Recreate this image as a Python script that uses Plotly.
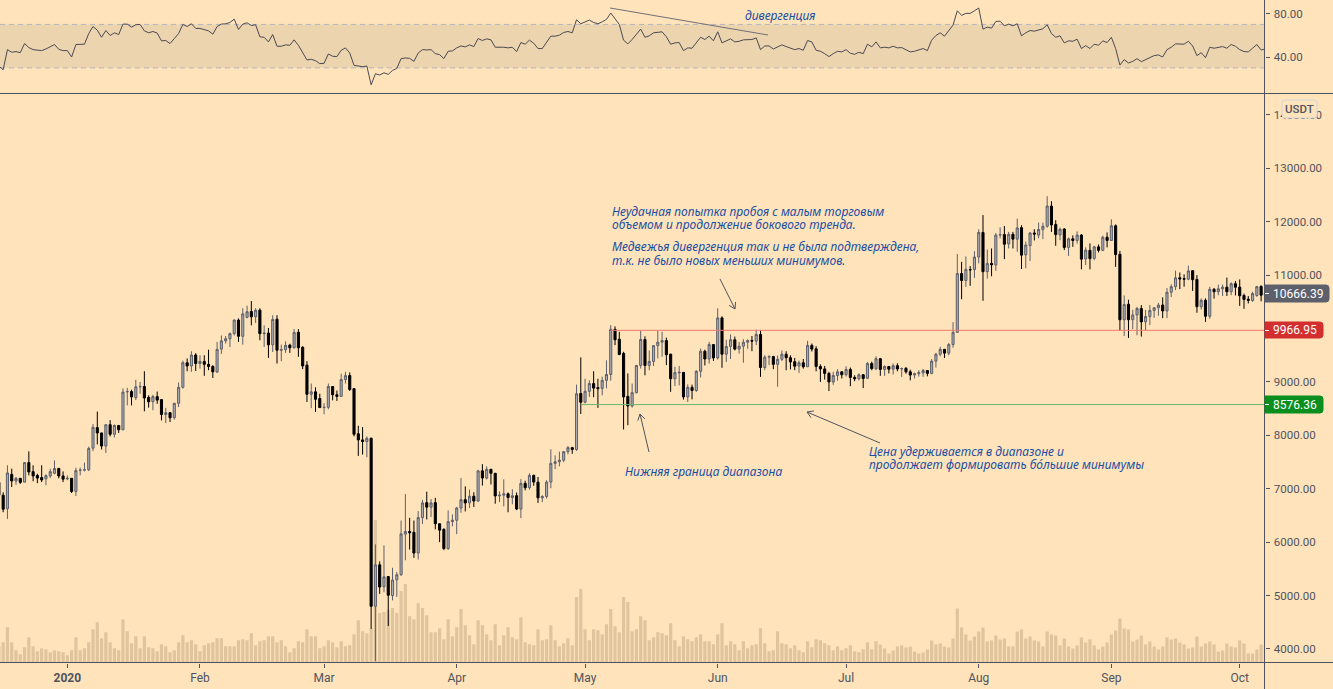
import math

import pandas as pd
import plotly.graph_objects as go

# daily candles, Dec 16 2019 .. Oct 7 2020 (one row per month)
opens = [
    7120, 6880, 6625, 7269, 7145, 7195, 7124, 7490, 7320, 7250, 7210, 7185, 7240, 7290, 7380, 7240,
    7185, 7195, 6950, 7345, 7350, 7357, 7760, 8145, 8045, 7800, 8200, 8020, 8185, 8105, 8815, 8820, 8705, 8910, 8915, 8710, 8630, 8725, 8670, 8390, 8425, 8330, 8600, 8900, 9360, 9300, 9505,
    9345, 9385, 9330, 9290, 9185, 9615, 9770, 9810, 9905, 10160, 9855, 10210, 10320, 10220, 10345, 9905, 9915, 9695, 10175, 9595, 9605, 9690, 9640, 9930, 9650, 9315, 8770, 8815, 8690,
    8520, 8525, 8915, 8760, 8730, 9045, 9120, 8875, 8030, 7915, 7885, 7945, 4800, 5575, 5165, 5355, 5000, 5295, 5390, 6150, 6200, 6185, 5795, 6460, 6740, 6655, 6740, 6345, 6240, 5880, 6385,
    6410, 6640, 6795, 6735, 6860, 6770, 7335, 7200, 7365, 7290, 6865, 6880, 6905, 6835, 6870, 6620, 7100, 7020, 7250, 7125, 6830, 6855, 7125, 7475, 7505, 7535, 7695, 7770, 7735, 8785,
    8620, 8825, 8970, 8895, 8880, 9030, 9140, 9985, 9800, 9535, 8730, 8550, 8800, 9310, 9795, 9310, 9385, 9680, 9745, 9775, 9520, 9060, 9170, 9180, 8720, 8900, 8840, 9200, 9575, 9430, 9700,
    9450, 10200, 9520, 9665, 9790, 9615, 9670, 9745, 9775, 9765, 9890, 9270, 9465, 9475, 9330, 9425, 9520, 9455, 9380, 9300, 9360, 9285, 9685, 9620, 9290, 9245, 9160, 9000, 9120, 9190,
    9135, 9235, 9085, 9060, 9135, 9070, 9345, 9250, 9435, 9235, 9290, 9240, 9305, 9245, 9255, 9190, 9130, 9155, 9170, 9215, 9160, 9390, 9520, 9610, 9540, 9700, 9930, 11030, 10900, 11105, 11105,
    11340, 11800, 11065, 11220, 11190, 11750, 11760, 11585, 11765, 11675, 11890, 11380, 11555, 11790, 11750, 11855, 11915, 12295, 11950, 11755, 11865, 11520, 11680, 11650, 11750, 11305, 11465, 11315, 11530, 11465, 11710,
    11650, 11925, 11390, 10165, 10455, 10165, 10255, 10375, 10125, 10225, 10340, 10390, 10440, 10330, 10680, 10785, 10950, 10935, 10925, 11085, 10920, 10410, 10530, 10230, 10735, 10690, 10745, 10775, 10690, 10840,
    10775, 10620, 10550, 10525, 10620, 10790, 10625,
]
highs = [
    7150, 6935, 7440, 7376, 7220, 7195, 7495, 7700, 7440, 7280, 7440, 7270, 7375, 7530, 7390, 7325,
    7250, 7195, 7395, 7395, 7490, 7790, 8210, 8445, 8050, 8200, 8285, 8205, 8185, 8880, 8890, 8855, 9040, 9000, 9200, 8750, 8760, 8820, 8670, 8515, 8430, 8610, 8990, 9400, 9440, 9575, 9540,
    9500, 9500, 9605, 9315, 9750, 9870, 9860, 9925, 10170, 10190, 10380, 10430, 10515, 10380, 10380, 10060, 10010, 10250, 10250, 9700, 9760, 9715, 9990, 9990, 9670, 9390, 8970, 8900, 8780,
    8605, 8970, 8920, 8840, 9155, 9190, 9180, 8875, 8180, 8155, 7980, 7960, 5958, 5640, 5940, 5360, 5520, 5440, 6405, 6900, 6455, 6405, 6580, 6790, 6945, 6805, 6830, 6345, 6260, 6595, 6520,
    6660, 7200, 7045, 6985, 6935, 7355, 7460, 7420, 7370, 7295, 6950, 7175, 6930, 6990, 6930, 7180, 7150, 7290, 7265, 7220, 6880, 7160, 7740, 7625, 7695, 7705, 7800, 7785, 8950, 9460,
    9060, 9030, 9200, 9060, 9100, 9405, 10065, 10040, 9940, 9565, 9160, 8970, 9315, 9955, 9855, 9590, 9690, 9955, 9940, 9830, 9530, 9285, 9300, 9185, 8955, 8950, 9220, 9625, 9605, 9750, 9700,
    10380, 10230, 9790, 9890, 9850, 9750, 9800, 9800, 9860, 9980, 9970, 9500, 9500, 9490, 9495, 9590, 9575, 9500, 9450, 9400, 9430, 9770, 9720, 9670, 9330, 9300, 9190, 9190, 9240, 9200,
    9295, 9270, 9125, 9160, 9150, 9375, 9380, 9480, 9450, 9310, 9300, 9345, 9350, 9270, 9280, 9230, 9175, 9220, 9245, 9220, 9430, 9545, 9660, 9620, 9730, 10120, 11395, 11250, 11350, 11170, 11450,
    11860, 12125, 11480, 11500, 11790, 11895, 11920, 11810, 11810, 12060, 11935, 11630, 11810, 11860, 11985, 11985, 12480, 12385, 12030, 11890, 11880, 11705, 11745, 11820, 11770, 11520, 11595, 11550, 11575, 11740, 11800,
    12045, 11950, 11455, 10620, 10540, 10350, 10405, 10440, 10350, 10440, 10400, 10480, 10585, 10760, 10830, 11085, 11050, 11015, 11180, 11085, 11000, 10565, 10565, 10780, 10760, 10825, 10825, 10955, 10865, 10890,
    10920, 10655, 10610, 10690, 10800, 10810, 10690,
]
lows = [
    6830, 6560, 6435, 7032, 7076, 7090, 7120, 7250, 7140, 7105, 7125, 7065, 7200, 7270, 7195, 7125,
    7160, 6920, 6865, 7250, 7325, 7330, 7705, 7830, 7735, 7670, 7980, 7960, 8045, 8095, 8560, 8560, 8660, 8780, 8450, 8520, 8470, 8590, 8280, 8230, 8250, 8295, 8530, 8875, 9200, 9190, 9205,
    9250, 9115, 9220, 9075, 9170, 9525, 9720, 9655, 9870, 9750, 9700, 10190, 10060, 10105, 9780, 9655, 9450, 9560, 9345, 9390, 9545, 9545, 9625, 9470, 9240, 8625, 8510, 8440, 8520,
    8395, 8490, 8655, 8645, 8730, 8970, 8830, 7980, 7615, 7640, 7590, 4375, 3771, 5030, 5060, 4430, 4910, 4975, 5370, 5660, 5860, 5705, 5675, 6340, 6425, 6470, 6240, 6000, 5850, 5855, 6295,
    6150, 6550, 6575, 6640, 6660, 6750, 7060, 7175, 7080, 6720, 6750, 6670, 6560, 6710, 6600, 6450, 6970, 6985, 7055, 6735, 6750, 6815, 7010, 7370, 7420, 7500, 7645, 7655, 7710, 8400,
    8600, 8720, 8715, 8515, 8750, 8880, 9025, 9690, 9500, 8110, 8190, 8520, 8785, 9250, 9125, 9220, 9300, 9440, 9470, 9315, 8815, 8925, 8935, 8670, 8625, 8675, 8815, 9085, 9310, 9345, 9395,
    9420, 9265, 9375, 9430, 9590, 9530, 9360, 9620, 9575, 9690, 9095, 9220, 9315, 9240, 8910, 9390, 9220, 9235, 9220, 9170, 9250, 9280, 9570, 9200, 9000, 9045, 8830, 8945, 9025, 9065,
    9100, 8920, 9015, 9030, 8885, 9055, 9220, 9220, 9115, 9115, 9160, 9140, 9200, 9095, 9155, 9030, 9065, 9100, 9095, 9105, 9145, 9270, 9480, 9450, 9500, 9640, 9920, 10550, 10780, 10800, 10950,
    11220, 10520, 10935, 10980, 11080, 11690, 11300, 11500, 11500, 11440, 11115, 11130, 11265, 11650, 11690, 11675, 11890, 11810, 11550, 11655, 11470, 11360, 11530, 11590, 11110, 11190, 11110, 11280, 11425, 11450, 11520,
    11640, 11155, 9960, 9860, 9825, 9990, 9875, 9850, 9965, 10065, 10200, 10240, 10195, 10195, 10590, 10720, 10740, 10785, 10905, 10705, 10295, 10355, 10125, 10185, 10560, 10625, 10610, 10610, 10625, 10620,
    10425, 10370, 10470, 10500, 10595, 10510, 10610,
]
closes = [
    6880, 6616, 7296, 7145, 7195, 7120, 7490, 7315, 7240, 7200, 7165, 7245, 7320, 7380, 7240, 7180,
    7195, 6950, 7340, 7350, 7355, 7755, 8150, 8045, 7800, 8200, 8020, 8185, 8105, 8810, 8820, 8720, 8910, 8915, 8700, 8630, 8725, 8660, 8390, 8425, 8330, 8600, 8900, 9360, 9300, 9505, 9345,
    9385, 9330, 9290, 9190, 9610, 9770, 9810, 9905, 10160, 9855, 10275, 10315, 10220, 10345, 9905, 9915, 9695, 10170, 9595, 9605, 9685, 9640, 9925, 9640, 9300, 8770, 8815, 8675, 8520,
    8525, 8915, 8760, 8730, 9045, 9120, 8860, 8020, 7915, 7885, 7945, 4800, 5575, 5160, 5350, 5005, 5290, 5390, 6155, 6200, 6175, 5795, 6460, 6735, 6655, 6735, 6345, 6225, 5880, 6385, 6410,
    6640, 6795, 6735, 6860, 6770, 7335, 7200, 7365, 7290, 6865, 6880, 6905, 6835, 6870, 6620, 7100, 7020, 7250, 7125, 6830, 6855, 7125, 7475, 7505, 7535, 7695, 7770, 7735, 8780, 8620,
    8825, 8970, 8885, 8875, 9030, 9140, 9985, 9790, 9515, 8720, 8550, 8800, 9310, 9795, 9310, 9385, 9680, 9745, 9775, 9510, 9060, 9175, 9180, 8720, 8900, 8840, 9200, 9575, 9430, 9700, 9450,
    10200, 9520, 9665, 9790, 9615, 9670, 9745, 9775, 9765, 9890, 9270, 9465, 9475, 9330, 9425, 9520, 9455, 9375, 9295, 9360, 9285, 9685, 9615, 9290, 9245, 9160, 9000, 9120, 9190, 9135,
    9235, 9085, 9060, 9135, 9065, 9345, 9250, 9435, 9235, 9290, 9240, 9305, 9245, 9250, 9190, 9130, 9155, 9175, 9215, 9160, 9390, 9520, 9610, 9540, 9700, 9930, 11030, 10900, 11110, 11100, 11340,
    11800, 11065, 11220, 11195, 11750, 11760, 11580, 11765, 11675, 11885, 11375, 11565, 11790, 11770, 11855, 11915, 12295, 11940, 11760, 11860, 11520, 11680, 11650, 11750, 11300, 11470, 11310, 11530, 11465, 11710, 11650,
    11925, 11385, 10165, 10450, 10165, 10255, 10375, 10125, 10225, 10340, 10390, 10440, 10330, 10680, 10785, 10950, 10930, 10925, 11080, 10915, 10410, 10530, 10230, 10735, 10690, 10745, 10775, 10690, 10840, 10775,
    10615, 10545, 10530, 10655, 10785, 10625, 10666.39,
]
volumes = [
    49, 61, 106, 61, 37, 25, 46, 76, 49, 34, 42, 40, 31, 37, 34, 31,
    22, 37, 76, 37, 43, 61, 100, 121, 73, 91, 61, 43, 37, 130, 94, 58, 79, 43, 79, 46, 43, 34, 55, 49, 31, 37, 61, 82, 61, 67, 55,
    34, 52, 58, 61, 73, 73, 49, 49, 49, 67, 70, 67, 88, 52, 64, 67, 79, 79, 61, 67, 49, 31, 43, 64, 61, 100, 79, 79, 43,
    49, 67, 61, 46, 64, 49, 52, 85, 127, 94, 88, 103, 427, 148, 151, 157, 163, 148, 214, 235, 139, 130, 178, 163, 142, 91, 91, 103, 70, 130, 79,
    106, 160, 112, 82, 55, 127, 112, 85, 67, 115, 52, 82, 106, 76, 70, 136, 61, 55, 52, 100, 67, 70, 112, 67, 49, 58, 73, 52, 196, 220,
    100, 67, 100, 97, 85, 115, 160, 109, 91, 196, 181, 94, 100, 139, 127, 67, 76, 91, 88, 82, 118, 67, 49, 79, 70, 64, 76, 85, 64, 64, 55,
    85, 118, 52, 64, 55, 37, 64, 43, 52, 55, 103, 58, 34, 37, 94, 58, 55, 43, 52, 37, 31, 64, 46, 70, 67, 58, 52, 37, 49, 37,
    43, 52, 34, 31, 40, 61, 40, 64, 54, 42, 27, 36, 48, 51, 45, 48, 33, 27, 30, 39, 66, 54, 57, 48, 45, 72, 162, 105, 84, 66, 78,
    93, 105, 63, 66, 81, 69, 72, 48, 48, 93, 99, 72, 78, 66, 63, 48, 93, 84, 81, 51, 72, 48, 42, 51, 75, 60, 69, 51, 39, 48, 60,
    84, 96, 132, 102, 99, 63, 69, 81, 54, 63, 48, 39, 48, 75, 69, 72, 60, 54, 42, 45, 78, 48, 57, 63, 54, 33, 36, 57, 48, 45,
    66, 57, 27, 27, 39, 54, 54,
]
rsi = [
    31.7, 28.3, 46.8, 44.4, 45, 44, 52.4, 48.7, 46.8, 46.2, 45.9, 47.4, 49.3, 51.5, 47.1, 45.9,
    45.9, 40, 51.5, 51.8, 51.8, 61.6, 68.1, 64.7, 58.2, 64.4, 59.8, 62.3, 60.7, 70.3, 70.3, 67.5, 69.7, 70, 64.1, 62.3, 63.5, 62, 54.9, 55.2, 52.4, 57, 61.6, 70, 68.1, 70.6, 66.3,
    66.3, 65.3, 64.1, 61, 68.1, 70.3, 70.6, 71.8, 74.9, 65.3, 70.3, 71.5, 69, 69.7, 58.6, 58.2, 53.9, 60.7, 49.9, 49.9, 51.2, 50.8, 55.8, 50.8, 44.4, 37.3, 37.9, 36.6, 33.9,
    34.2, 42.8, 40.7, 40.4, 46.2, 48.4, 43.7, 32.3, 31.4, 31.1, 31.7, 14.4, 24.6, 23.4, 25.5, 24, 27.7, 29.5, 38.5, 39.1, 38.8, 36, 43.7, 46.8, 46.5, 46.8, 43.1, 42.2, 38.5, 45.3, 45.6,
    48.4, 50.2, 49.3, 51.2, 49.6, 57, 55.2, 56.7, 55.8, 49, 49.3, 49, 48.4, 49, 45, 53.3, 51.8, 55.5, 52.7, 47.8, 47.8, 53.3, 59.2, 59.2, 60.1, 62.6, 63.5, 62.3, 74.3, 70.6,
    72.4, 74, 71.8, 70.6, 72.4, 74.6, 80.5, 75.5, 70, 55.5, 52.1, 56.1, 60.7, 65.7, 58.2, 59.5, 62.3, 62.9, 63.2, 58.6, 51.8, 53, 53.3, 45.9, 48.4, 48.1, 53.3, 58.2, 56.1, 59.2, 54.9,
    63.2, 53, 54.9, 56.7, 53.9, 54.5, 55.8, 56.1, 56.1, 57.6, 46.8, 50.2, 50.2, 47.4, 49, 51.2, 49.6, 48.4, 46.8, 47.8, 46.2, 55.2, 53.9, 46.2, 45.3, 43.1, 40.4, 43.1, 45.3, 44.7,
    46.8, 43.4, 42.5, 44.4, 43.1, 51.8, 49.3, 53.9, 48.4, 49, 48.4, 49.9, 48.4, 48.7, 46.8, 44.7, 45.3, 46.2, 47.8, 45.9, 55.5, 59.8, 62.3, 59.2, 64.1, 69.4, 82.6, 78.3, 80.2, 80.2, 82.6,
    85.1, 65.7, 67.5, 66.6, 72.7, 73, 68.7, 70.3, 68.7, 70.6, 59.5, 62.3, 64.4, 63.8, 64.7, 66, 69.7, 61.6, 58.2, 59.5, 53, 54.9, 54.5, 56.4, 47.8, 50.5, 47.8, 51.8, 50.8, 54.9, 53.3,
    58.2, 47.8, 32.6, 37.6, 34.5, 36, 38.5, 35.7, 37.6, 39.7, 41.3, 41.9, 40, 46.8, 49, 52.1, 51.8, 51.8, 54.5, 50.2, 41.3, 44, 39.4, 49, 48.1, 48.7, 49.6, 48.1, 51.5, 49.9,
    46.8, 45, 44.7, 48.1, 51.5, 46.5, 47.4,
]
dates = pd.date_range("2019-12-16", periods=len(closes), freq="D")

month_ticks = ["2020-01-01", "2020-02-01", "2020-03-01", "2020-04-01", "2020-05-01", "2020-06-01",
               "2020-07-01", "2020-08-01", "2020-09-01", "2020-10-01"]
month_labels = ["<b>2020</b>", "Feb", "Mar", "Apr", "May", "Jun", "Jul", "Aug", "Sep", "Oct"]
price_ticks = [4000, 5000, 6000, 7000, 8000, 9000, 11000, 12000, 13000, 14000]
rsi_ticks = [40, 80]

RANGE_HIGH = 9966.95
RANGE_LOW = 8576.36
LAST_PRICE = 10666.39

W, H = 1333, 689
AXIS_X = 1264.5
TOP_PANE_Y = 93.5
BOTTOM_Y = 662.5
BG = "#ffe3bb"
INK = "#50535e"
NOTE = "#1b4fa3"
FONT = "Noto Sans"
AXIS_FONT = "Roboto"


def px(x):
    return x / W


def py(y):
    return 1 - y / H


def seg(x0, y0, x1, y1, color=INK, width=1):
    return dict(type="line", xref="paper", yref="paper", x0=px(x0), y0=py(y0), x1=px(x1), y1=py(y1),
                line=dict(color=color, width=width))


def arrow(x0, y0, x1, y1, size=7):
    out = [seg(x0, y0, x1, y1)]
    ang = math.atan2(y0 - y1, x0 - x1)
    for d in (-0.55, 0.55):
        out.append(seg(x1, y1, x1 + size * math.cos(ang + d), y1 + size * math.sin(ang + d)))
    return out


def rounded(x0, y0, x1, y1, r, fill, line=None, left=False):
    xa, xb, ya, yb = px(x0), px(x1), py(y0), py(y1)
    rx, ry = r / W, r / H
    rl = rx if left else 0
    rly = ry if left else 0
    path = (f"M {xa + rl} {ya} L {xb - rx} {ya} Q {xb} {ya} {xb} {ya - ry} L {xb} {yb + ry} "
            f"Q {xb} {yb} {xb - rx} {yb} L {xa + rl} {yb} Q {xa} {yb} {xa} {yb + rly} "
            f"L {xa} {ya - rly} Q {xa} {ya} {xa + rl} {ya} Z")
    return dict(type="path", xref="paper", yref="paper", path=path, fillcolor=fill,
                line=dict(color=line or fill, width=1))


fig = go.Figure()
fig.add_trace(go.Bar(x=dates, y=volumes, yaxis="y", marker=dict(color="#dfc49e", line=dict(width=0)),
                     hoverinfo="skip"))
fig.add_trace(go.Scatter(x=dates, y=rsi, yaxis="y2", mode="lines", line=dict(color="#4a4a52", width=1),
                         hoverinfo="skip"))
fig.add_trace(go.Scatter(x=[dates[143], dates[-1]], y=[RANGE_HIGH, RANGE_HIGH], yaxis="y3", mode="lines",
                         line=dict(color="#f0776c", width=1), hoverinfo="skip"))
fig.add_trace(go.Scatter(x=[dates[136], dates[-1]], y=[RANGE_LOW, RANGE_LOW], yaxis="y3", mode="lines",
                         line=dict(color="#6cb86a", width=1), hoverinfo="skip"))
fig.add_trace(go.Candlestick(
    x=dates, open=opens, high=highs, low=lows, close=closes, yaxis="y3", whiskerwidth=0,
    increasing=dict(line=dict(color="#5d606b", width=1), fillcolor="#a9abb5"),
    decreasing=dict(line=dict(color="#000000", width=1), fillcolor="#000000"),
    hoverinfo="skip",
))

shapes = [
    dict(type="rect", xref="paper", yref="y2", x0=0, x1=px(AXIS_X), y0=30, y1=70, fillcolor="#ecd4ae",
         line=dict(width=0), layer="below"),
    dict(type="line", xref="paper", yref="y2", x0=0, x1=px(AXIS_X), y0=70, y1=70, layer="below",
         line=dict(color="#b2b5be", width=1, dash="5px,4px")),
    dict(type="line", xref="paper", yref="y2", x0=0, x1=px(AXIS_X), y0=30, y1=30, layer="below",
         line=dict(color="#b2b5be", width=1, dash="5px,4px")),
    seg(AXIS_X, 0, AXIS_X, H),
    seg(0, TOP_PANE_Y, W, TOP_PANE_Y),
    seg(0, BOTTOM_Y, W, BOTTOM_Y),
    seg(610, 8, 768, 35, color="#6f7078"),
    rounded(1265, 285, 1329, 302, 3, "#5d606b"),
    rounded(1265, 322, 1323, 338, 3, "#d32f2f"),
    rounded(1265, 396, 1323, 413, 3, "#0a8f1e"),
    seg(1265, 293.5, 1269, 293.5, color="#ffffff"),
    seg(1265, 330.5, 1269, 330.5, color="#ffffff"),
    seg(1265, 404.5, 1269, 404.5, color="#ffffff"),
    rounded(1282, 100, 1317, 118, 3, BG, line="#d1d4dc", left=True),
]
shapes += arrow(720, 279, 735, 309)
shapes += arrow(649, 452, 640, 414)
shapes += arrow(880, 443, 807, 412)


def note(x, y, text):
    return dict(xref="paper", yref="paper", x=px(x - 2), y=py(y), text=text, showarrow=False,
                xanchor="left", yanchor="middle", align="left",
                font=dict(family=FONT, size=12, color=NOTE, style="italic"))


def tag(x, y, text, color="#ffffff", size=12, weight=400):
    return dict(xref="paper", yref="paper", x=px(x), y=py(y), text=text, showarrow=False,
                xanchor="center", yanchor="middle",
                font=dict(family=AXIS_FONT, size=size, color=color, weight=weight))


annotations = [
    note(745, 15, "дивергенция"),
    note(612, 211, "Неудачная попытка пробоя с малым торговым"),
    note(612, 224, "объемом и продолжение бокового тренда."),
    note(612, 247, "Медвежья дивергенция так и не была подтверждена,"),
    note(612, 260, "т.к. не было новых меньших минимумов."),
    note(625, 471, "Нижняя граница диапазона"),
    note(869, 452, "Цена удерживается в диапазоне и"),
    note(869, 465, "продолжает формировать бо́льшие минимумы"),
    tag(1298, 293.5, f"{LAST_PRICE:.2f}"),
    tag(1295, 330, f"{RANGE_HIGH:.2f}"),
    tag(1295, 404.5, f"{RANGE_LOW:.2f}"),
    tag(1299.5, 108.5, "USDT", color=INK, size=11.5, weight=500),
]

y_axis_style = dict(side="right", anchor="x", showgrid=False, zeroline=False, showline=False,
                    ticks="outside", ticklen=4, tickcolor=INK, tickformat=".2f", ticklabelstandoff=2,
                    tickfont=dict(family=AXIS_FONT, size=11.5, color=INK))

fig.update_layout(
    width=W, height=H, margin=dict(l=0, r=0, t=0, b=0),
    paper_bgcolor=BG, plot_bgcolor=BG, showlegend=False, bargap=0.25,
    shapes=shapes, annotations=annotations,
    xaxis=dict(domain=[0, px(AXIS_X)], type="date", range=["2019-12-16 06:15", "2020-10-06 19:00"],
               rangeslider=dict(visible=False), anchor="y", showgrid=False, zeroline=False, showline=False,
               tickmode="array", tickvals=month_ticks, ticktext=month_labels, ticks="outside", ticklen=4,
               tickcolor=INK, tickfont=dict(family=AXIS_FONT, size=12, color=INK)),
    yaxis=dict(domain=[py(BOTTOM_Y), py(94)], range=[0, 1704], visible=False, anchor="x"),
    yaxis2=dict(domain=[py(TOP_PANE_Y), 1], range=[6.4, 92.5], tickmode="array", tickvals=rsi_ticks, **y_axis_style),
    yaxis3=dict(overlaying="y", range=[3746, 14393], tickmode="array", tickvals=price_ticks, **y_axis_style),
)

fig.write_html("out.html", config=dict(displayModeBar=False), post_script="document.body.style.margin='0';")
